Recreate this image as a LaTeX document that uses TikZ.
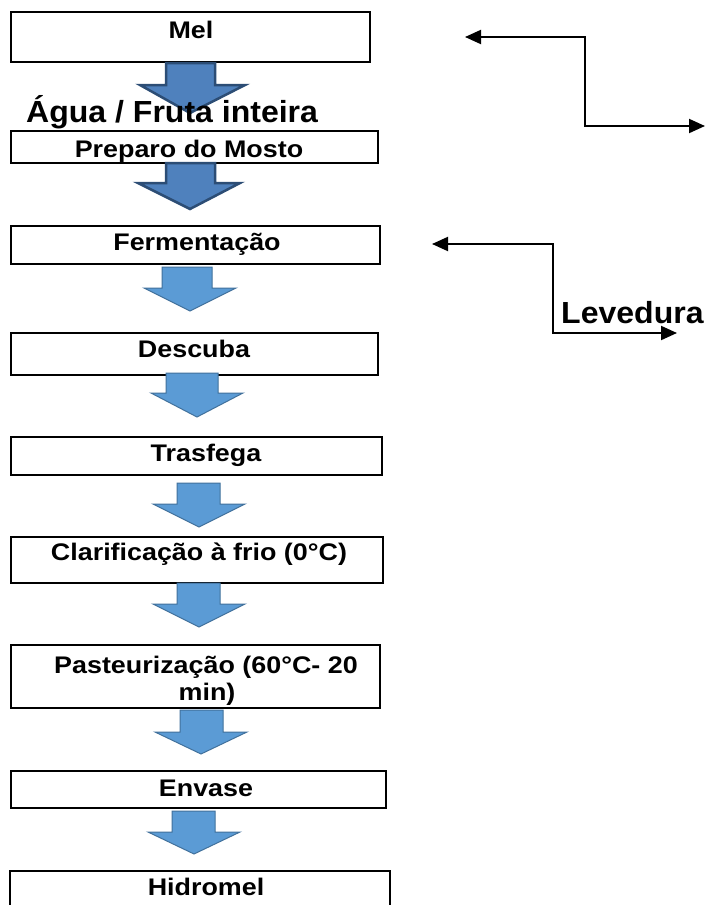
\documentclass[tikz,border=0pt]{standalone}
\usepackage{fontspec}
\setmainfont{Liberation Sans}
\newfontfamily\boxfont[FakeStretch=1.12]{Liberation Sans}
\newfontfamily\bigfont[FakeStretch=1.05]{Liberation Sans}
\usetikzlibrary{arrows.meta}
\definecolor{darkfill}{HTML}{4F81BD}
\definecolor{darkline}{HTML}{2C4D75}
\definecolor{lightfill}{HTML}{5B9BD5}
\definecolor{lightline}{HTML}{41719C}
\newcommand\blockarr[9]{%
  \path[#1] (#2,#4) -- (#3,#4) -- (#3,#7) -- (#6,#7) -- (#8,#9) -- (#5,#7) -- (#2,#7) -- cycle;}
\begin{document}
\begin{tikzpicture}[x=1pt,y=-1pt,
  box/.style={draw=black, line width=2pt, fill=white, inner sep=0pt, rectangle},
  btxt/.style={inner sep=0pt, anchor=base, font=\boxfont\bfseries\fontsize{24}{28}\selectfont, align=center},
  bigtxt/.style={inner sep=0pt, font=\bigfont\bfseries\fontsize{30.5}{34}\selectfont},
  darkarr/.style={fill=darkfill, draw=darkline, line width=2.5pt, line join=miter},
  lightarr/.style={fill=lightfill, draw=lightline, line width=1pt, line join=miter},
  conn/.style={draw=black, line width=2pt, {Triangle[length=16pt,width=14pt]}-{Triangle[length=16pt,width=14pt]}}]
\useasboundingbox (0,0) rectangle (705,905);
\fill[white] (0,0) rectangle (705,905);

% boxes
\node[box, minimum width=359pt, minimum height=50pt] (mel) at (190.5,37) {};
\node[box, minimum width=367pt, minimum height=32pt] (mosto) at (194.5,147) {};
\node[box, minimum width=369pt, minimum height=38pt] (ferm) at (195.5,245) {};
\node[box, minimum width=367pt, minimum height=42pt] (desc) at (194.5,354) {};
\node[box, minimum width=371pt, minimum height=38pt] (trasf) at (196.5,456) {};
\node[box, minimum width=372pt, minimum height=46pt] (clar) at (197,560) {};
\node[box, minimum width=369pt, minimum height=63pt] (past) at (195.5,676.5) {};
\node[box, minimum width=375pt, minimum height=37pt] (envase) at (198.5,789.5) {};
\node[box, minimum width=380pt, minimum height=60pt] (hidro) at (200,901) {};

% block arrows
\blockarr{darkarr}{166}{215}{63}{140}{245}{85}{190}{113}
\blockarr{darkarr}{166}{215}{163}{138}{240}{183}{190}{209}
\blockarr{lightarr}{162}{212}{267}{144}{236}{288}{190}{311}
\blockarr{lightarr}{166}{218}{373}{151}{243}{393}{197}{417}
\blockarr{lightarr}{177}{220}{483}{153}{245}{504}{199}{527}
\blockarr{lightarr}{177}{220}{583}{153}{245}{604}{199}{627}
\blockarr{lightarr}{180}{223}{710}{155}{247}{732}{201}{754}
\blockarr{lightarr}{172}{215}{811}{148}{240}{832}{194}{854}

% texts
\node[btxt] (melt) at (191,38) {Mel};
\node[bigtxt, anchor=base west] (agua) at (26,122) {Água / Fruta inteira};
\node[btxt] (mostot) at (189,157) {Preparo do Mosto};
\node[btxt] (fermt) at (197,250) {Fermentação};
\node[btxt] (desct) at (194,357) {Descuba};
\node[btxt] (trasft) at (206,461) {Trasfega};
\node[btxt] (clart) at (199,560) {Clarificação à frio (0°C)};
\node[btxt] (pastt1) at (206,673) {Pasteurização (60°C- 20};
\node[btxt] (pastt2) at (207,700) {min)};
\node[btxt] (envt) at (206,796) {Envase};
\node[btxt] (hidt) at (206,895) {Hidromel};
\node[bigtxt, anchor=base west] (lev) at (561,323) {Levedura};

% elbow connectors
\coordinate (w1) at (465,37);
\coordinate (c1) at (585,37);
\coordinate (d1) at (585,126);
\coordinate (e1) at (705,126);
\draw[conn] (w1) -- (c1) -- (d1) -- (e1);
\coordinate (w2) at (432,244);
\coordinate (c2) at (553,244);
\coordinate (d2) at (553,333);
\coordinate (e2) at (677,333);
\draw[conn] (w2) -- (c2) -- (d2) -- (e2);
\end{tikzpicture}
\end{document}
